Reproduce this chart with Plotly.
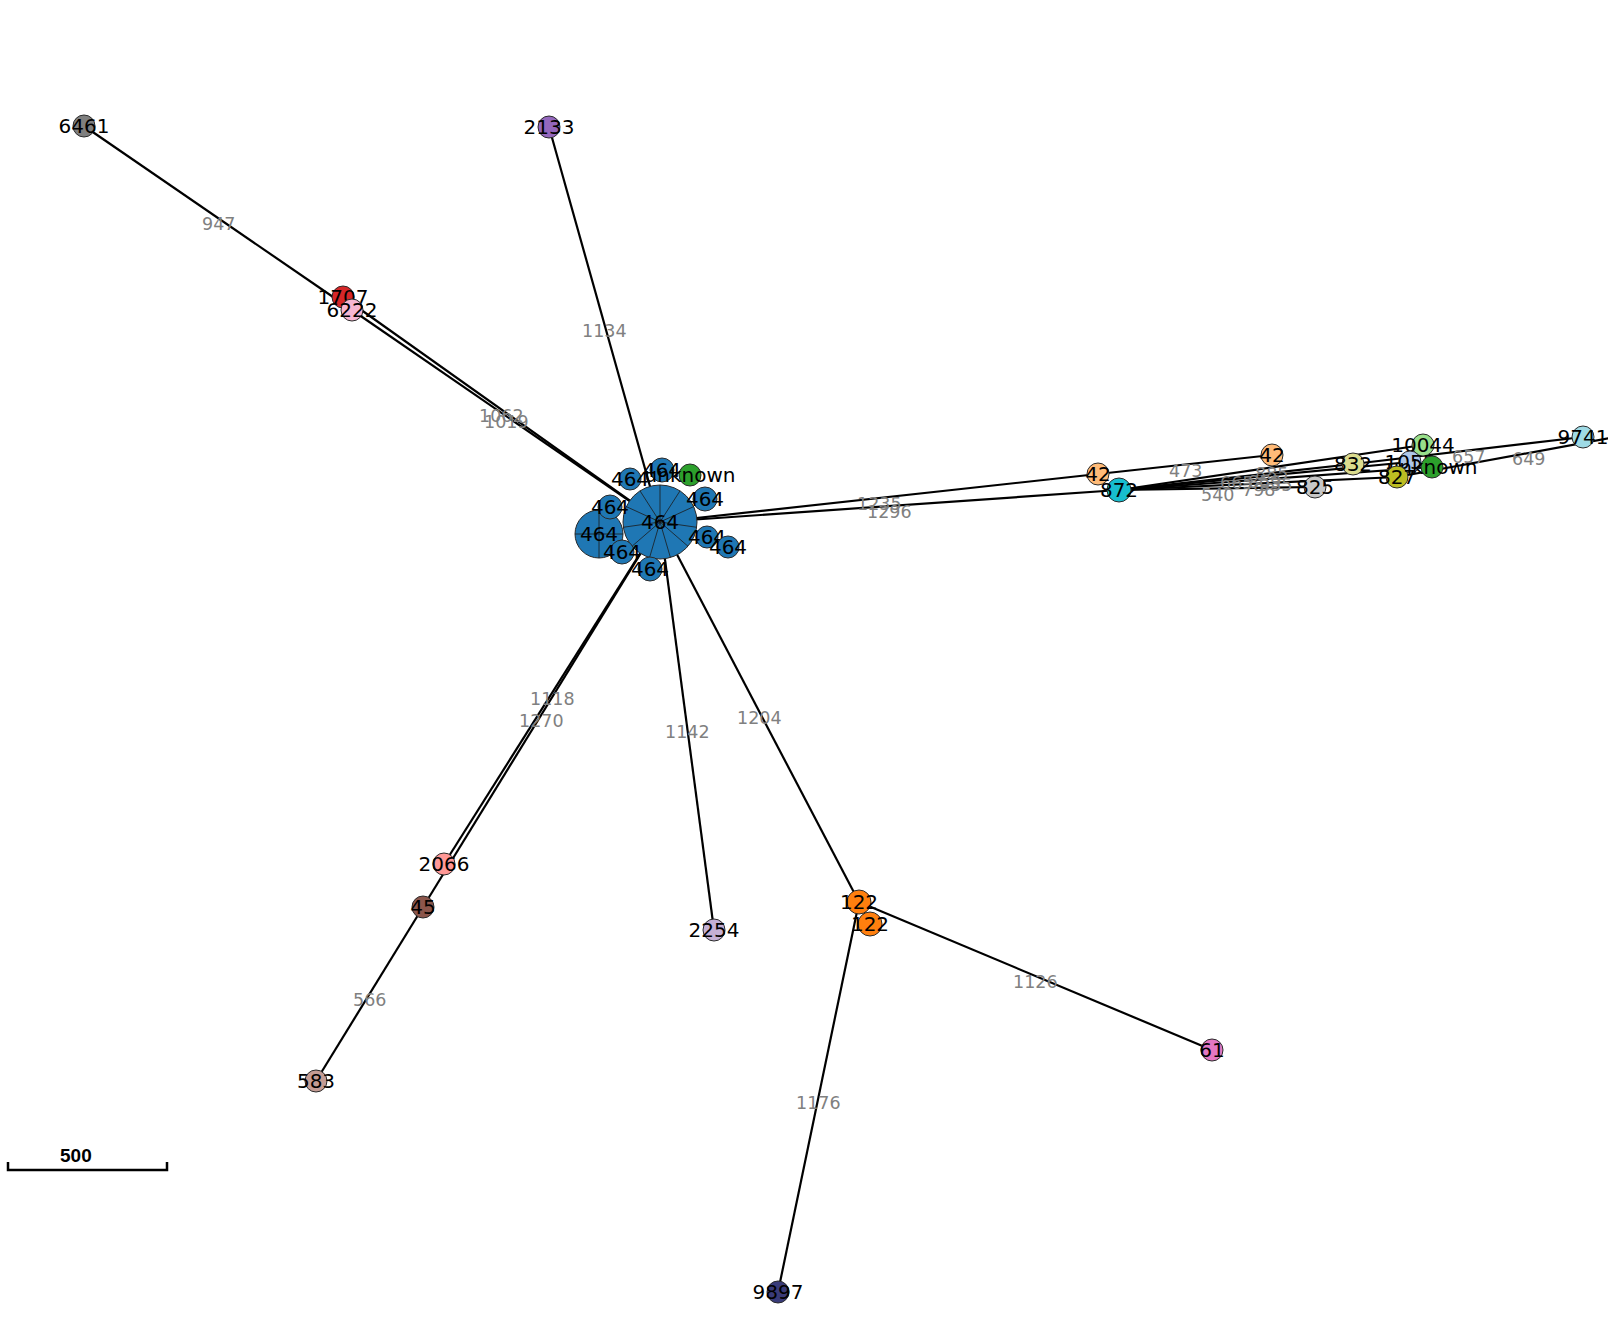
import math
import plotly.graph_objects as go

# ---------------- data ----------------
node_labels = ["464", "464", "464", "464", "unknown", "464", "464", "464", "464", "464", "464",
               "6461", "2133", "1707", "6222",
               "42", "872", "42", "825", "832", "10044", "1055", "unknown", "827", "9741",
               "2066", "45", "583", "2254", "122", "122", "61", "9897", ""]
node_x = [660, 599, 630, 662, 690, 705, 610, 707, 728, 622, 650,
          84, 549, 343, 352,
          1098, 1119, 1272, 1315, 1353, 1423, 1410, 1432, 1397, 1583,
          444, 423, 316, 714, 859, 870, 1212, 778, 1660]
node_y = [522, 534, 479, 470, 475, 499, 507, 537, 547, 552, 569,
          126, 127, 297, 310,
          474, 490, 455, 487, 464, 445, 462, 467, 477, 437,
          864, 907, 1081, 930, 902, 924, 1050, 1292, 429]
node_colors = ["#1f77b4"] * 4 + ["#2ca02c"] + ["#1f77b4"] * 6 + \
              ["#7f7f7f", "#9467bd", "#d62728", "#f7b6d2",
               "#ffbb78", "#17becf", "#ffbb78", "#c7c7c7", "#dbdb8d", "#98df8a", "#aec7e8",
               "#2ca02c", "#bcbd22", "#9edae5",
               "#ff9896", "#8c564b", "#c49c94", "#c5b0d5", "#ff7f0e", "#ff7f0e", "#e377c2",
               "#393b79", "#aaaaaa"]
node_radius = [37, 24, 11, 12, 11, 12, 12, 11, 11, 12, 12,
               11, 11, 11, 11,
               11, 12, 11, 11, 11, 11, 11, 11, 11, 11,
               11, 11, 11, 11, 12, 12, 11, 11, 11]
node_slices = [11, 4] + [1] * 32

edge_src = [11, 0, 0, 0, 0, 0, 15, 16, 16, 16, 16, 16, 16, 19, 23,
            0, 0, 26, 0, 0, 29, 29, 29]
edge_dst = [14, 13, 14, 12, 15, 16, 17, 18, 19, 23, 20, 21, 22, 24, 33,
            25, 26, 27, 28, 29, 30, 31, 32]
edge_labels = ["947", "1062", "1019", "1134", "1235", "1296", "473", "540", "665", "798",
               "885", "859", "935", "657", "649",
               "1118", "1270", "566", "1142", "1204", "", "1126", "1176"]

scale_value = 500
W, H = 1608, 1321

fig = go.Figure()

# edges
ex, ey = [], []
for s, d in zip(edge_src, edge_dst):
    ex += [node_x[s], node_x[d], None]
    ey += [node_y[s], node_y[d], None]
fig.add_trace(go.Scatter(x=ex, y=ey, mode="lines", line=dict(color="black", width=2.2),
                         hoverinfo="skip", showlegend=False))

# edge labels at midpoints
for s, d, lab in zip(edge_src, edge_dst, edge_labels):
    if not lab:
        continue
    fig.add_annotation(x=(node_x[s] + node_x[d]) / 2, y=(node_y[s] + node_y[d]) / 2,
                       text=lab, showarrow=False, yshift=-6,
                       font=dict(family="DejaVu Sans", size=17.5, color="#808080"))

# nodes: marker, pie dividers, label (in order)
for i in range(len(node_labels)):
    x, y, r = node_x[i], node_y[i], node_radius[i]
    fig.add_trace(go.Scatter(x=[x], y=[y], mode="markers",
                             marker=dict(size=2 * r, color=node_colors[i],
                                         line=dict(color="#2a2a2a", width=1)),
                             hoverinfo="skip", showlegend=False))
    n = node_slices[i]
    if n > 1:
        dx, dy = [], []
        for k in range(n):
            a = math.pi / 2 + 2 * math.pi * k / n
            dx += [x, x + r * math.cos(a), None]
            dy += [y, y - r * math.sin(a), None]
        fig.add_trace(go.Scatter(x=dx, y=dy, mode="lines",
                                 line=dict(color="#1a1a1a", width=0.8),
                                 hoverinfo="skip", showlegend=False))
    if node_labels[i]:
        fig.add_trace(go.Scatter(x=[x], y=[y + 1.5], mode="text", text=[node_labels[i]],
                                 textposition="middle center",
                                 textfont=dict(family="DejaVu Sans", size=20, color="black"),
                                 hoverinfo="skip", showlegend=False))

# scale bar
fig.add_trace(go.Scatter(x=[8, 8, 167, 167], y=[1162, 1170, 1170, 1162], mode="lines",
                         line=dict(color="black", width=2.5), hoverinfo="skip",
                         showlegend=False))
fig.add_annotation(x=76, y=1155, text="<b>%d</b>" % scale_value, showarrow=False,
                   font=dict(family="Liberation Sans", size=19, color="black"))

fig.update_layout(
    width=W, height=H, margin=dict(l=0, r=0, t=0, b=0),
    paper_bgcolor="white", plot_bgcolor="white",
    xaxis=dict(range=[0, W], visible=False, fixedrange=True),
    yaxis=dict(range=[H, 0], visible=False, fixedrange=True),
)

fig.write_html("out.html")
